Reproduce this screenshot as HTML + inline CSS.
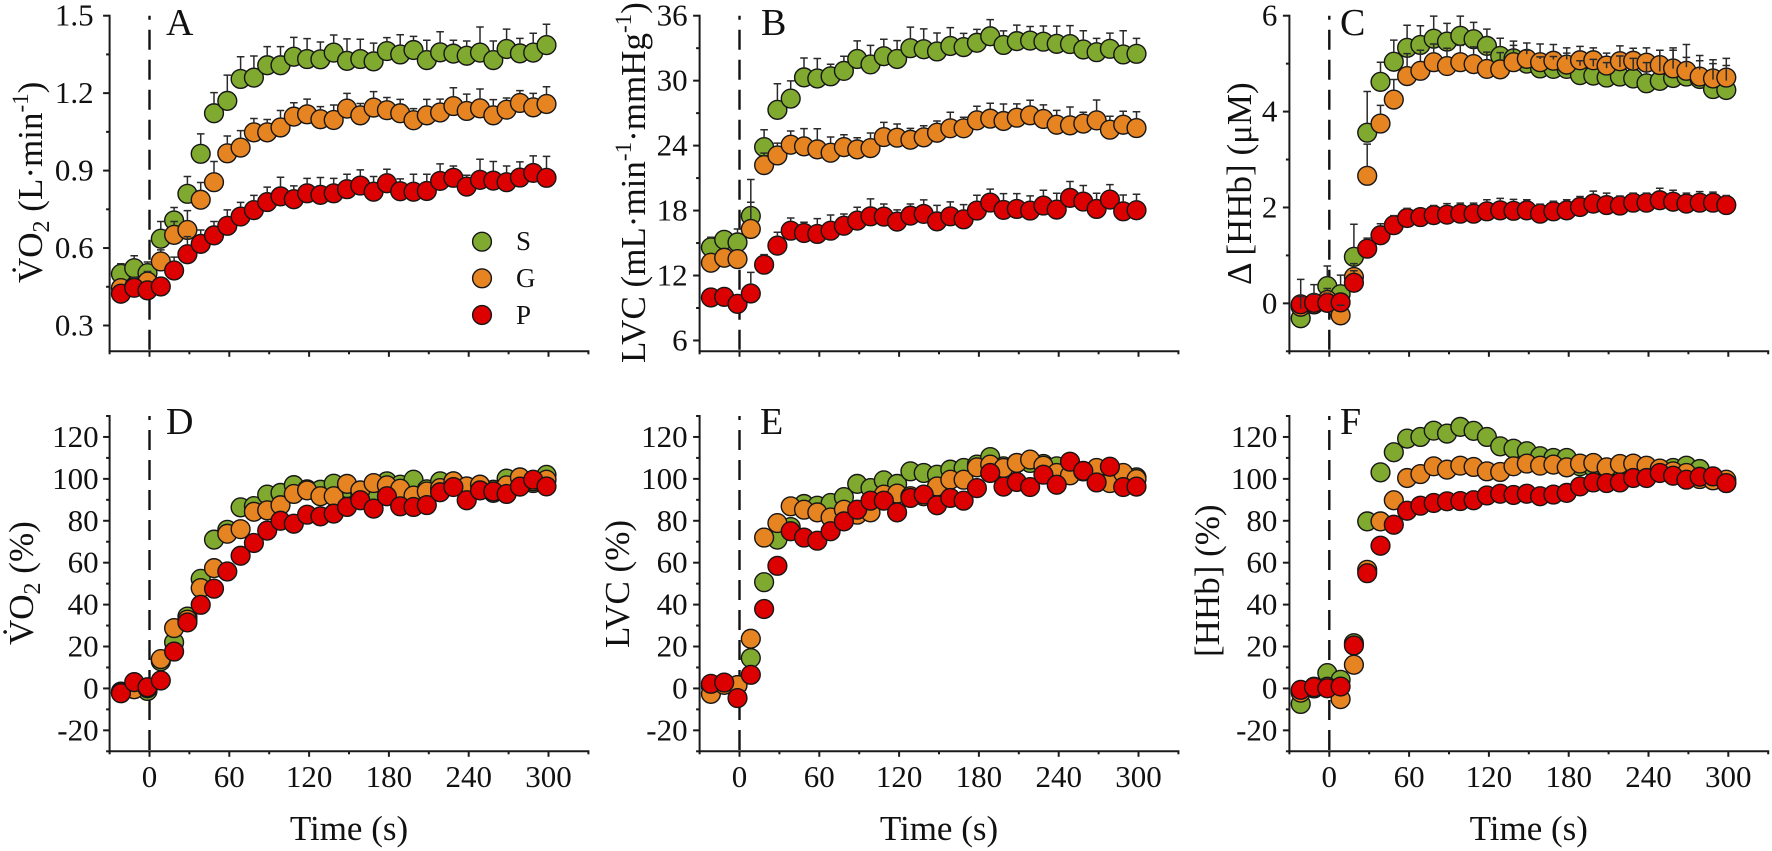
<!DOCTYPE html>
<html>
<head>
<meta charset="utf-8">
<title>Oxygen uptake, LVC and HHb kinetics</title>
<style>
html,body{margin:0;padding:0;background:#fff;}
svg{display:block;}
text{font-family:"Liberation Serif","DejaVu Serif",serif;fill:#111;}
.tick{font-size:31px;}
.title{font-size:35px;}
.letter{font-size:38px;}
.leg{font-size:27px;}
</style>
</head>
<body>
<svg id="chart" xmlns="http://www.w3.org/2000/svg" width="1772" height="851" viewBox="0 0 1772 851">
  <rect x="0" y="0" width="1772" height="851" fill="#fff"/>
  <g id="plots"></g>

  <text class="title" transform="translate(42,283) rotate(-90)">V&#775;O<tspan font-size="24" dy="7">2</tspan><tspan dy="-7"> (L·min</tspan><tspan font-size="23" dy="-14">-1</tspan><tspan dy="14">)</tspan></text>
  <text class="title" transform="translate(645,363) rotate(-90)">LVC (mL·min<tspan font-size="23" dy="-14">-1</tspan><tspan dy="14">·mmHg</tspan><tspan font-size="23" dy="-14">-1</tspan><tspan dy="14">)</tspan></text>
  <text class="title" transform="translate(1251,285) rotate(-90)">Δ [HHb] (μM)</text>
  <text class="title" transform="translate(33,645) rotate(-90)">V&#775;O<tspan font-size="24" dy="7">2</tspan><tspan dy="-7"> (%)</tspan></text>
  <text class="title" transform="translate(629,648) rotate(-90)">LVC (%)</text>
  <text class="title" transform="translate(1219,657) rotate(-90)">[HHb] (%)</text>

  <text class="letter" x="166" y="35">A</text>
  <text class="letter" x="761" y="35">B</text>
  <text class="letter" x="1340" y="35">C</text>
  <text class="letter" x="166" y="434">D</text>
  <text class="letter" x="760" y="434">E</text>
  <text class="letter" x="1340" y="434">F</text>

  <g>
    <circle cx="482" cy="241.7" r="9.4" fill="#7fa92f" stroke="#161616" stroke-width="1.4"/>
    <text class="leg" x="516" y="250">S</text>
    <circle cx="482" cy="278.3" r="9.4" fill="#e78422" stroke="#161616" stroke-width="1.4"/>
    <text class="leg" x="516" y="287">G</text>
    <circle cx="482" cy="315" r="9.4" fill="#dc0000" stroke="#161616" stroke-width="1.4"/>
    <text class="leg" x="516" y="324">P</text>
  </g>
</svg>
<script>
var times = [-21.5,-11.5,-1.5,8.5,18.5,28.5,38.5,48.5,58.5,68.5,78.5,88.5,98.5,108.5,118.5,128.5,138.5,148.5,158.5,168.5,178.5,188.5,198.5,208.5,218.5,228.5,238.5,248.5,258.5,268.5,278.5,288.5,298.5];
var xTickValues = [0,60,120,180,240,300];
var xTickLabels = ["0","60","120","180","240","300"];

var aTicks = [0.3,0.6,0.9,1.2,1.5];
var aTickLabels = ["0.3","0.6","0.9","1.2","1.5"];
var bTicks = [6,12,18,24,30,36];
var bTickLabels = ["6","12","18","24","30","36"];
var cTicks = [0,2,4,6];
var cTickLabels = ["0","2","4","6"];
var pctTicks = [-20,0,20,40,60,80,100,120];
var pctTickLabels = ["-20","0","20","40","60","80","100","120"];

var aS = [.50,.522,.503,.636,.707,.81,.965,1.122,1.17,1.255,1.26,1.308,1.308,1.341,1.332,1.331,1.357,1.325,1.332,1.323,1.363,1.35,1.367,1.328,1.358,1.353,1.345,1.357,1.328,1.371,1.354,1.357,1.386];
var aG = [.445,.45,.47,.548,.651,.67,.787,.855,.967,.989,1.048,1.048,1.067,1.109,1.118,1.099,1.096,1.14,1.114,1.144,1.134,1.122,1.095,1.114,1.125,1.15,1.131,1.141,1.114,1.136,1.162,1.145,1.158];
var aP = [.423,.446,.436,.451,.513,.576,.616,.649,.686,.722,.747,.778,.80,.789,.812,.806,.812,.828,.842,.818,.851,.82,.818,.821,.86,.872,.838,.864,.861,.855,.873,.891,.872];
var aSErr = [.039,.048,.043,.067,.05,.067,.077,.08,.1,.086,.084,.072,.072,.075,.079,.067,.068,.085,.077,.071,.052,.076,.053,.077,.08,.052,.057,.099,.074,.077,.058,.075,.081];
var aGErr = [.032,.032,.039,.045,.052,.075,.067,.08,.067,.066,.054,.05,.066,.054,.059,.049,.058,.059,.046,.062,.049,.054,.045,.062,.052,.071,.065,.075,.061,.045,.048,.054,.067];
var aPErr = [.032,.039,.032,.036,.052,.068,.054,.054,.062,.055,.057,.058,.074,.052,.058,.067,.058,.058,.061,.059,.054,.048,.068,.065,.066,.046,.044,.08,.074,.063,.061,.066,.083];

var bS = [14.6,15.3,15.06,17.5,23.86,27.3,28.34,30.3,30.2,30.4,30.9,32.0,31.5,32.26,32.0,33.0,32.9,32.7,33.2,33.1,33.5,34.1,33.3,33.65,33.7,33.6,33.4,33.38,32.88,32.63,32.94,32.42,32.48];
var bG = [13.18,13.64,13.52,16.3,22.2,23.09,24.08,23.93,23.65,23.34,23.86,23.65,23.77,24.79,24.73,24.54,24.76,25.19,25.6,25.6,26.33,26.49,26.27,26.58,26.8,26.46,25.93,25.87,26.03,26.33,25.47,25.93,25.62];
var bP = [9.97,10.03,9.38,10.34,13.0,14.76,16.14,15.93,15.84,16.14,16.6,17.07,17.47,17.44,16.98,17.53,17.69,17.0,17.47,17.19,18.0,18.74,18.06,18.15,18.0,18.46,18.09,19.17,18.83,18.15,19.01,17.93,18.03];
var bSErr = [.93,.83,1.24,3.37,1.61,2.41,1.64,1.79,1.85,1.11,1.36,1.67,1.76,1.57,1.7,1.95,1.88,1.7,1.7,1.27,1.24,1.54,1.3,1.48,1.3,1.45,1.64,1.7,1.73,1.27,1.45,2.19,1.42];
var bGErr = [.68,.8,.83,2.47,1.11,1.14,1.27,1.64,1.91,1.45,1.14,1.08,1.39,1.36,1.27,1.05,1.08,1.08,1.48,1.02,1.3,1.42,1.57,1.27,1.39,1.3,1.33,1.7,1.05,1.88,1.24,1.24,1.51];
var bPErr = [.62,.71,.74,1.95,.93,1.24,1.17,.99,1.42,1.45,1.08,1.24,1.61,1.17,1.08,1.08,1.3,1.48,1.33,1.36,1.42,1.24,1.51,1.42,1.36,1.42,1.51,1.51,1.48,1.45,1.39,1.51,1.48];

var cS = [-.31,-.02,.36,.19,.97,3.56,4.62,5.04,5.33,5.39,5.52,5.46,5.58,5.51,5.37,5.16,5.11,5.0,4.9,4.89,4.89,4.76,4.75,4.71,4.73,4.69,4.59,4.64,4.70,4.73,4.68,4.47,4.45];
var cG = [-.07,-.02,.07,-.25,.55,2.66,3.75,4.25,4.74,4.85,5.03,4.95,5.03,4.99,4.89,4.88,5.03,5.1,5.03,5.06,4.98,5.07,5.07,4.96,5.05,5.06,5.02,4.97,4.9,4.85,4.73,4.69,4.71];
var cP = [-.02,.01,.01,.02,.43,1.14,1.42,1.63,1.78,1.80,1.84,1.85,1.87,1.87,1.92,1.94,1.93,1.94,1.87,1.92,1.94,2.01,2.08,2.05,2.04,2.10,2.10,2.15,2.12,2.08,2.10,2.10,2.05];
var cSErr = [.81,.41,.42,.4,.68,.86,.41,.45,.47,.4,.47,.38,.41,.35,.35,.37,.36,.28,.24,.26,.33,.3,.34,.31,.43,.42,.43,.64,.63,.67,.49,.61,.66];
var cGErr = [.21,.21,.24,.21,.28,.66,.38,.42,.47,.43,.38,.37,.35,.36,.35,.35,.35,.33,.38,.34,.35,.29,.26,.26,.32,.26,.31,.31,.38,.28,.33,.31,.25];
var cPErr = [.15,.18,.2,.18,.25,.22,.24,.2,.2,.19,.2,.23,.22,.22,.24,.25,.24,.22,.2,.21,.22,.22,.26,.25,.2,.2,.2,.25,.24,.22,.23,.22,.2];

var dS = [-1.5,0,-1.2,13,22,34.3,52.3,71,75.7,86.4,87,92.5,93.3,97,95,94.8,97.7,95.6,93,91.7,98.8,97.2,99.6,95,98.8,98.8,96.4,97.2,94.8,100.1,98.8,98,101.9];
var dG = [-2,-.4,.1,14,28.8,32.8,47.9,57.4,73.8,76,84.3,85,87.4,92.8,94.5,91.7,91.7,97.6,94.5,98,96.9,95.3,92,94,95.6,98.8,96.4,97.2,93.3,96.9,100.7,98.8,99.6];
var dP = [-2.3,3,.6,3.8,17.6,31.5,39.9,47.6,55.8,63.3,69.4,75.3,80,78.6,82.9,82.1,83.4,86.6,89.8,85.8,91.7,86.9,86.6,87.5,93.6,96.1,89.8,94.5,94,92.8,96.3,99.6,96.4];

var eS = [1,2,1.6,14.5,50.7,71,77,88,87.2,88.5,91.3,97.6,95.6,99.3,97.6,103.6,102.8,102,104.4,105.2,106.8,110.4,106,107.6,107.6,107.1,106,102.8,103.6,104.4,102,101.2,100.7];
var eG = [-2.6,1.7,1.6,23.7,72,78.9,86.9,85.3,84,81.6,85.3,82.9,84,92.5,93,91.7,91.7,96.4,99.6,99.6,105.5,106.8,105.2,107.6,109.2,106.3,102.8,101.7,103.6,105.2,98,102.8,99.9];
var eP = [2.2,2.8,-4.6,6.5,37.9,58.5,75,72,70.5,75,79.7,85.3,89.6,89.6,84,90.9,92.5,87.4,90.9,89.6,95.6,102.8,96.3,98.5,96.1,102,97.2,108.2,103.8,98.3,105.8,96.1,96.3];

var fS = [-7.4,.8,7.3,4.1,21.6,79.7,103.1,112.7,119.2,120,123,121.6,124.8,122.9,120,115.5,114.4,113.2,110.8,110,110,106,105.5,105,105.5,105.5,105,104.4,105.2,106.3,104.7,100,98];
var fG = [-2,0,.8,-5.1,11.3,56.6,79.7,89.8,100.4,102.3,106,104.4,106.3,105.7,103.6,103.3,106,107.3,106.3,106.8,105.5,107.3,107.6,105.5,107.1,107.3,106.3,104.9,103.6,102.8,99.9,99.3,99.6];
var fP = [-.7,.6,.1,.9,20.5,55,68.1,78.1,84.8,87.2,88.5,89.3,89.4,89.8,92.1,92.9,92.3,92.9,91.7,92.5,93.3,96.4,98.3,98,98.3,100.4,100.4,102.8,101.5,99.6,101,101.2,98];

var SVG_NS = "http://www.w3.org/2000/svg";
var plots = document.getElementById("plots");
var INK = "#1a1a1a";
var GREEN = "#7fa92f", ORANGE = "#e78422", RED = "#dc0000";
var MARKER_R = 9.4;

function node(parent, tag, attrs) {
  var el = document.createElementNS(SVG_NS, tag);
  for (var k in attrs) el.setAttribute(k, attrs[k]);
  parent.appendChild(el);
  return el;
}

function drawPanel(cfg) {
  var xScale = function (t) { return cfg.x0 + (t / 60) * 79.8; };
  var yScale = function (v) {
    return cfg.yTopPx + (cfg.yMax - v) / (cfg.yMax - cfg.yMin) * (cfg.yBottomPx - cfg.yTopPx);
  };
  var axisLeft = xScale(-30), axisRight = xScale(330);

  var g = node(plots, "g", {});
  
  

  var dash = node(g, "line", {x1: cfg.x0, x2: cfg.x0, y1: cfg.yTopPx, y2: cfg.yBottomPx, stroke: "#111", "stroke-width": 2.4, "stroke-dasharray": "20 10", "stroke-dashoffset": 16});
  
  

  var xAxis = node(g, "line", {x1: axisLeft - 1, x2: axisRight + 1, y1: cfg.yBottomPx, y2: cfg.yBottomPx, stroke: INK, "stroke-width": 2});
  
  

  var yAxis = node(g, "line", {x1: axisLeft, x2: axisLeft, y1: cfg.yTopPx - 1, y2: cfg.yBottomPx + 1, stroke: INK, "stroke-width": 2});
  
  

  // x ticks
  for (var t = -30; t <= 330; t += 30) {
    var major = xTickValues.indexOf(t) >= 0;
    var xt = node(g, "line", {x1: xScale(t), x2: xScale(t), y1: cfg.yBottomPx, y2: cfg.yBottomPx + (major ? 5.5 : 3), stroke: INK, "stroke-width": 2});
    
    
  }
  if (cfg.showXLabels) {
    xTickValues.forEach(function (tv, i) {
      var lb = node(g, "text", {x: xScale(tv), y: 787, "text-anchor": "middle", "class": "tick"});
      lb.textContent = xTickLabels[i];
      
      
    });
    var xt2 = node(g, "text", {x: (axisLeft + axisRight) / 2, y: 840, "text-anchor": "middle", "class": "title"});
    xt2.textContent = "Time (s)";
    
    
  }

  // y ticks
  var step = cfg.ticks[1] - cfg.ticks[0];
  cfg.ticks.forEach(function (tv, i) {
    var yt = node(g, "line", {x1: axisLeft - 6.5, x2: axisLeft, y1: yScale(tv), y2: yScale(tv), stroke: INK, "stroke-width": 2});
    
    
    var lb = node(g, "text", {x: axisLeft - cfg.labelGap, y: yScale(tv) + 10, "text-anchor": "end", "class": "tick"});
    lb.textContent = cfg.tickLabels[i];
    
    
  });
  for (var m = cfg.ticks[0] - step / 2; m < cfg.yMax + step / 2; m += step) {
    if (m < cfg.yMin - 1e-6 || m > cfg.yMax + 1e-6) continue;
    var mt = node(g, "line", {x1: axisLeft - 3.5, x2: axisLeft, y1: yScale(m), y2: yScale(m), stroke: INK, "stroke-width": 2});
    
    
  }

  // markers: S, then G, then P on top
  cfg.series.forEach(function (s) {
    s.values.forEach(function (v, i) {
      var c = node(g, "circle", {cx: xScale(times[i]), cy: yScale(v), r: MARKER_R, fill: s.color, stroke: "#161616", "stroke-width": 1.4});
      
      
    });
  });

  // error bars start at the marker edge and sit above all markers
  cfg.series.forEach(function (s) {
    if (!s.errors) return;
    s.values.forEach(function (v, i) {
      var px = xScale(times[i]);
      var start = yScale(v) - MARKER_R;
      var top = yScale(v + s.errors[i]);
      if (top >= start) return;
      var bar = node(g, "path", {d: "M" + px + " " + start + "V" + top + "M" + (px - 3.8) + " " + top + "H" + (px + 3.8), fill: "none", stroke: "#2a2a2a", "stroke-width": 1.5});
      
      
    });
  });
}

drawPanel({id: "a", x0: 149.5, yTopPx: 15.7, yBottomPx: 351.3, yMax: 1.5, yMin: 0.2, ticks: aTicks, tickLabels: aTickLabels, labelGap: 16, showXLabels: false,
  series: [{name: "s", color: GREEN, values: aS, errors: aSErr}, {name: "g", color: ORANGE, values: aG, errors: aGErr}, {name: "p", color: RED, values: aP, errors: aPErr}]});
drawPanel({id: "b", x0: 739.5, yTopPx: 15.7, yBottomPx: 351.3, yMax: 36, yMin: 5, ticks: bTicks, tickLabels: bTickLabels, labelGap: 12, showXLabels: false,
  series: [{name: "s", color: GREEN, values: bS, errors: bSErr}, {name: "g", color: ORANGE, values: bG, errors: bGErr}, {name: "p", color: RED, values: bP, errors: bPErr}]});
drawPanel({id: "c", x0: 1329.3, yTopPx: 15.7, yBottomPx: 351.3, yMax: 6, yMin: -1, ticks: cTicks, tickLabels: cTickLabels, labelGap: 12, showXLabels: false,
  series: [{name: "s", color: GREEN, values: cS, errors: cSErr}, {name: "g", color: ORANGE, values: cG, errors: cGErr}, {name: "p", color: RED, values: cP, errors: cPErr}]});
drawPanel({id: "d", x0: 149.5, yTopPx: 416, yBottomPx: 751.3, yMax: 130, yMin: -30, ticks: pctTicks, tickLabels: pctTickLabels, labelGap: 11, showXLabels: true,
  series: [{name: "s", color: GREEN, values: dS}, {name: "g", color: ORANGE, values: dG}, {name: "p", color: RED, values: dP}]});
drawPanel({id: "e", x0: 739.5, yTopPx: 416, yBottomPx: 751.3, yMax: 130, yMin: -30, ticks: pctTicks, tickLabels: pctTickLabels, labelGap: 12, showXLabels: true,
  series: [{name: "s", color: GREEN, values: eS}, {name: "g", color: ORANGE, values: eG}, {name: "p", color: RED, values: eP}]});
drawPanel({id: "f", x0: 1329.3, yTopPx: 416, yBottomPx: 751.3, yMax: 130, yMin: -30, ticks: pctTicks, tickLabels: pctTickLabels, labelGap: 12, showXLabels: true,
  series: [{name: "s", color: GREEN, values: fS}, {name: "g", color: ORANGE, values: fG}, {name: "p", color: RED, values: fP}]});
</script>
</body>
</html>
